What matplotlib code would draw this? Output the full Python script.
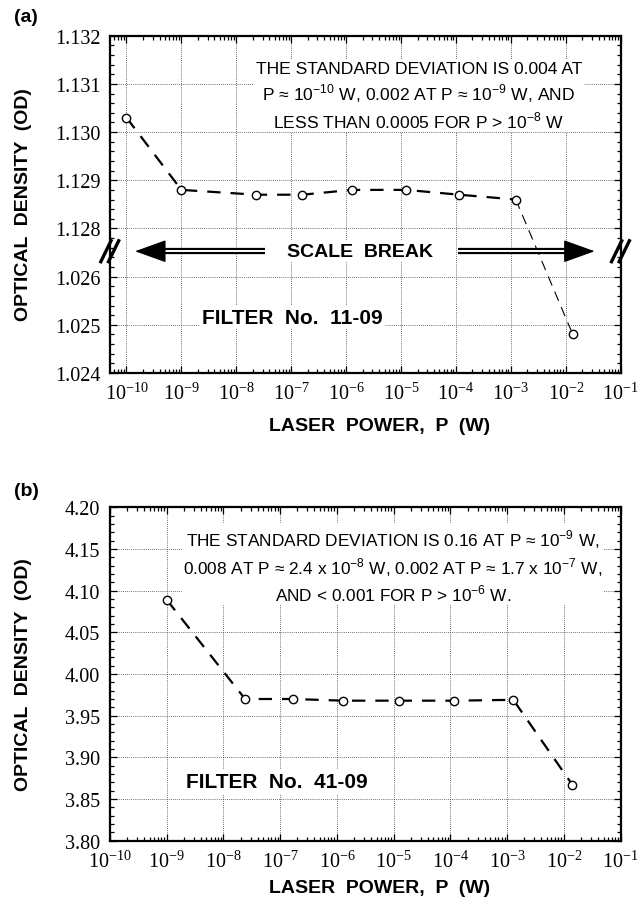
import numpy as np
import matplotlib
matplotlib.use("Agg")
import matplotlib.pyplot as plt
from matplotlib import ticker

plt.rcParams["font.family"] = ["Liberation Sans", "DejaVu Sans"]
plt.rcParams["mathtext.fontset"] = "custom"
plt.rcParams["mathtext.rm"] = "Liberation Serif"
plt.rcParams["mathtext.sf"] = "Liberation Sans"

# --- data ---
# (a) filter No. 11-09
power_a = [1e-10, 1e-9, 2.3e-8, 1.6e-7, 1.26e-6, 1.24e-5, 1.15e-4, 1.23e-3, 1.34e-2]
od_a = [1.1303, 1.1288, 1.1287, 1.1287, 1.1288, 1.1288, 1.1287, 1.1286, 1.0248]
# (b) filter No. 41-09
power_b = [1e-9, 2.4e-8, 1.67e-7, 1.29e-6, 1.25e-5, 1.15e-4, 1.28e-3, 1.41e-2]
od_b = [4.089, 3.970, 3.970, 3.968, 3.968, 3.968, 3.969, 3.867]

yticks_a = [1.024, 1.025, 1.026, 1.128, 1.129, 1.130, 1.131, 1.132]
note_a = ("THE STANDARD DEVIATION IS 0.004 AT\n"
          r"P ≈ 10$^{\mathsf{-10}}$ W, 0.002 AT P ≈ 10$^{\mathsf{-9}}$ W, AND" "\n"
          r"LESS THAN 0.0005 FOR P > 10$^{\mathsf{-8}}$ W")
note_b = (r"THE STANDARD DEVIATION IS 0.16 AT P ≈ 10$^{\mathsf{-9}}$ W," "\n"
          r"0.008 AT P ≈ 2.4 x 10$^{\mathsf{-8}}$ W, 0.002 AT P ≈ 1.7 x 10$^{\mathsf{-7}}$ W," "\n"
          r"AND < 0.001 FOR P > 10$^{\mathsf{-6}}$ W.")

# scale break for panel (a): 1.0265 .. 1.1275 collapsed
BRK_LO, BRK_HI = 1.0265, 1.1275


def fwd(v):
    v = np.asarray(v, dtype=float)
    return np.where(v > BRK_HI, v - (BRK_HI - BRK_LO), np.minimum(v, BRK_LO))


def inv(u):
    u = np.asarray(u, dtype=float)
    return np.where(u > BRK_LO, u + (BRK_HI - BRK_LO), u)


def decade_label(x, pos):
    e = int(round(np.log10(x)))
    return r"$\mathrm{10^{%d}}$" % e


def style_axes(ax):
    ax.set_xscale("log")
    ax.xaxis.set_major_locator(ticker.LogLocator(base=10, numticks=20))
    ax.xaxis.set_minor_locator(ticker.LogLocator(base=10, subs=np.arange(2, 10), numticks=20))
    ax.xaxis.set_major_formatter(ticker.FuncFormatter(decade_label))
    ax.xaxis.set_minor_formatter(ticker.NullFormatter())
    ax.tick_params(which="both", direction="in", top=True, right=True, width=0.9)
    ax.tick_params(which="major", length=5, pad=7, labelsize=14.5)
    ax.tick_params(which="minor", length=3)
    for lab in ax.get_xticklabels() + ax.get_yticklabels():
        lab.set_fontfamily("Liberation Serif")
    for s in ax.spines.values():
        s.set_linewidth(1.6)
    ax.grid(True, which="major", linestyle=(0, (1, 1.5)), color="0.25", linewidth=0.6)
    ax.set_axisbelow(True)


fig = plt.figure(figsize=(6.38, 9.04), dpi=100)
W, H = 638.0, 904.0
ax_a = fig.add_axes([110 / W, 1 - 374 / H, 510.7 / W, 337.3 / H])
ax_b = fig.add_axes([110 / W, 1 - 841.7 / H, 510.7 / W, 333.4 / H])

# ---------- panel (a) ----------
ax_a.set_yscale("function", functions=(fwd, inv))
ax_a.set_xlim(10 ** -10.3, 1e-1)
ax_a.set_ylim(1.024, 1.132)
ax_a.yaxis.set_major_locator(ticker.FixedLocator(yticks_a))
minor_a = np.concatenate([np.arange(1.0242, 1.0265, 0.0002), np.arange(1.1276, 1.1320, 0.0002)])
ax_a.yaxis.set_minor_locator(ticker.FixedLocator(np.round(minor_a, 4)))
ax_a.yaxis.set_major_formatter(ticker.FuncFormatter(lambda v, p: f"{v:.3f}"))
style_axes(ax_a)

ax_a.plot(power_a[:-1], od_a[:-1], color="k", lw=1.6, dashes=(6, 4.5), zorder=3)
ax_a.plot(power_a[-2:], od_a[-2:], color="k", lw=0.8, dashes=(9, 6), zorder=3)
ax_a.plot(power_a, od_a, "o", ms=6, mfc="white", mec="k", mew=1, zorder=4)

ax_a.text(0.605, 0.822, note_a, transform=ax_a.transAxes, ha="center", va="center",
          fontsize=12.6, linespacing=1.3, zorder=5,
          bbox=dict(fc="white", ec="none", pad=1))
ax_a.text(0.489, 0.361, "SCALE  BREAK", transform=ax_a.transAxes, ha="center", va="center",
          fontsize=14, fontweight="bold", zorder=5, bbox=dict(fc="white", ec="none", pad=2))
ax_a.text(0.357, 0.166, "FILTER  No.  11-09", transform=ax_a.transAxes, ha="center", va="center",
          fontsize=15, fontweight="bold", zorder=5, bbox=dict(fc="white", ec="none", pad=2))

# double-line arrows
for tail, base, tip in [(0.3035, 0.10, 0.049), (0.681, 0.895, 0.949)]:
    ax_a.plot([tail, base], [0.361, 0.361], color="k", lw=4.5, solid_capstyle="butt",
              transform=ax_a.transAxes, zorder=5)
    ax_a.plot([tail, base], [0.361, 0.361], color="white", lw=1.4, solid_capstyle="butt",
              transform=ax_a.transAxes, zorder=6)
    ax_a.annotate("", xy=(tip, 0.361), xytext=(base, 0.361), xycoords="axes fraction",
                  arrowprops=dict(arrowstyle="-|>,head_length=1.0,head_width=0.36",
                                  mutation_scale=20, lw=1, color="k",
                                  shrinkA=0, shrinkB=0), zorder=6)

# break marks on both spines
for x0 in (0.0, 1.0):
    for dx in (-0.008, 0.007):
        ax_a.plot([x0 + dx - 0.010, x0 + dx + 0.010], [0.330, 0.392], color="k", lw=2.4,
                  transform=ax_a.transAxes, clip_on=False, zorder=7)

# ---------- panel (b) ----------
ax_b.set_xlim(1e-10, 1e-1)
ax_b.set_ylim(3.80, 4.20)
ax_b.yaxis.set_major_locator(ticker.MultipleLocator(0.05))
ax_b.yaxis.set_minor_locator(ticker.MultipleLocator(0.01))
ax_b.yaxis.set_major_formatter(ticker.FuncFormatter(lambda v, p: f"{v:.2f}"))
style_axes(ax_b)

ax_b.plot(power_b, od_b, color="k", lw=1.6, dashes=(6, 4.5), zorder=3)
ax_b.plot(power_b, od_b, "o", ms=6, mfc="white", mec="k", mew=1, zorder=4)

ax_b.text(0.554, 0.825, note_b, transform=ax_b.transAxes, ha="center", va="center",
          fontsize=12.4, linespacing=1.3, zorder=5,
          bbox=dict(fc="white", ec="none", pad=1))
ax_b.text(0.326, 0.177, "FILTER  No.  41-09", transform=ax_b.transAxes, ha="center", va="center",
          fontsize=15, fontweight="bold", zorder=5, bbox=dict(fc="white", ec="none", pad=2))

# ---------- labels ----------
for ycen, yx, tag, ytag in [(1 - 205 / H, 1 - 427 / H, "(a)", 1 - 18 / H),
                             (1 - 675 / H, 1 - 889 / H, "(b)", 1 - 492 / H)]:
    fig.text(24 / W, ycen, "OPTICAL  DENSITY  (OD)", rotation=90, ha="center", va="center",
             fontsize=14, fontweight="bold")
    fig.text(380 / W, yx, "LASER  POWER,  P  (W)", ha="center", va="center",
             fontsize=14, fontweight="bold")
    fig.text(14 / W, ytag, tag, ha="left", va="center", fontsize=14, fontweight="bold")

fig.savefig("out.png", dpi=100)
